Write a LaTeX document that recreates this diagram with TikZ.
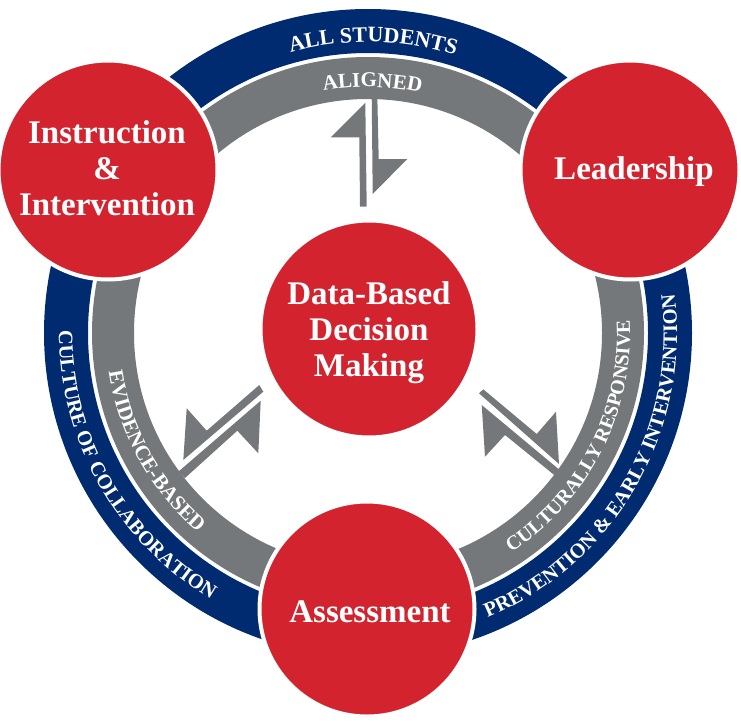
\documentclass[tikz,border=0pt]{standalone}
\usepackage{fontspec}
\setmainfont{Liberation Serif}
\usetikzlibrary{decorations.text}
\definecolor{rred}{HTML}{D2232E}
\definecolor{rblue}{HTML}{002B71}
\definecolor{rgray}{HTML}{75787B}
\tikzset{
  x=1pt,y=1pt,
  hub/.style={circle,fill=rred,draw=white,line width=4pt,inner sep=0pt,outer sep=0pt},
  hubtext/.style={text=white,align=center,inner sep=0pt,font=\fontsize{33}{36}\selectfont\bfseries},
  arrowpart/.style={fill=rgray,draw=none},
  bluering/.style={draw=rblue,line width=44pt},
  grayring/.style={draw=rgray,line width=42pt},
}
\newcommand{\arclabel}[5]{% radius, from, to, size, text
  \path[decorate,decoration={text along path,text align=center,
    text={|\fontsize{#4}{#4}\selectfont\bfseries\color{white}|#5}}]
    (ringc) ++(#2:#1) arc[start angle=#2,end angle=#3,radius=#1];}
\begin{document}
\begin{tikzpicture}
\useasboundingbox (0,-720) rectangle (741,0);
\coordinate (ringc) at (368,-333);
% rings
\draw[bluering] (ringc) circle[radius=302];
\draw[grayring] (ringc) circle[radius=255];
% arrows
\fill[arrowpart] (365.3,-102.7) -- (330.7,-137.3) -- (359.3,-137.3) -- (360,-206.7) -- (366.7,-206.7) -- cycle;
\fill[arrowpart] (377.3,-96) -- (371.7,-96) -- (372.7,-194) -- (407.3,-159) -- (378.7,-159) -- cycle;
\fill[arrowpart] (186.7,-408.3) -- (206.7,-430.7) -- (259.3,-385) -- (263.3,-391.7) -- (183.3,-460) -- cycle;
\fill[arrowpart] (260.7,-400.7) -- (258.3,-453.3) -- (237.3,-430.7) -- (185,-478) -- (178.3,-471.7) -- cycle;
\fill[arrowpart] (483.3,-389.3) -- (536.7,-434) -- (556,-411.7) -- (559,-464) -- (479,-393.3) -- cycle;
\fill[arrowpart] (481.7,-405) -- (561.7,-471.7) -- (558.3,-478.3) -- (505,-435) -- (485,-456.7) -- cycle;
% hubs
\node[hub,minimum size=219pt] (instr) at (108,-170) {};
\node[hub,minimum size=219pt] (lead) at (630,-170) {};
\node[hub,minimum size=215pt] (assess) at (367,-609) {};
\node[hub,minimum size=217pt] (data) at (369,-329) {};
\node[hubtext] (instrtext) at (107,-168) {Instruction\\\&\\Intervention};
\node[hubtext] (leadtext) at (634,-172) {Leadership};
\node[hubtext] (assesstext) at (370,-612) {Assessment};
\node[hubtext] (datatext) at (369,-333) {Data-Based\\Decision\\Making};
% ring labels
\arclabel{291}{124}{54}{22}{ALL STUDENTS}
\arclabel{246}{124}{54}{21}{ALIGNED}
\arclabel{309}{170}{249}{20.5}{CULTURE OF COLLABORATION}
\arclabel{262}{169}{249}{21}{EVIDENCE-BASED}
\arclabel{309}{-75}{15}{20.5}{PREVENTION {\&} EARLY INTERVENTION}
\arclabel{262}{-72}{18}{20}{CULTURALLY RESPONSIVE}
\end{tikzpicture}
\end{document}
